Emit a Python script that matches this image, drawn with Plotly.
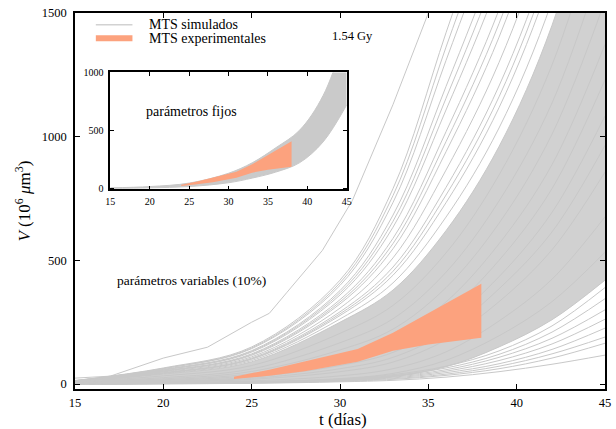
import plotly.graph_objects as go

FONT = "Liberation Serif"
GRAY = "#c8c8c8"
SALMON = "rgb(252,162,126)"

# time grid for simulated curves (days)
t_grid = [15, 20, 25, 30, 33, 36, 39, 42, 45]

# steepest simulated curve (read with its own abscissae)
outlier_t = [15, 17, 20, 22.5, 25, 26, 27, 29, 30.7, 33, 35, 36]
outlier_v = [24, 32, 105, 149, 250, 286, 371, 540, 742, 1130, 1500, 1700]

# sparse simulated curves above the dense bundle
upper_lines = [
    [14, 65, 150, 420, 790, 1420, 2050, 2800, 3600],
    [14, 63, 146, 409, 762, 1362, 1974, 2710, 3514],
    [13, 62, 143, 399, 734, 1308, 1900, 2621, 3427],
    [13, 59, 135, 378, 683, 1203, 1761, 2456, 3262],
    [12, 57, 132, 369, 658, 1155, 1696, 2377, 3184],
    [12, 56, 129, 360, 634, 1108, 1632, 2299, 3107],
    [12, 53, 122, 341, 589, 1020, 1513, 2150, 2956],
    [12, 52, 119, 332, 568, 980, 1457, 2083, 2885],
    [12, 51, 116, 324, 547, 939, 1402, 2016, 2815],
    [12, 49, 110, 307, 510, 865, 1300, 1887, 2678],
    [12, 46, 105, 292, 473, 795, 1205, 1767, 2549],
    [12, 45, 102, 284, 456, 764, 1161, 1711, 2487],
    [12, 44, 100, 277, 440, 733, 1117, 1655, 2426],
    [12, 42, 95, 263, 409, 675, 1035, 1548, 2308],
]

# simulated curves inside the dense bundle
inner_lines = [
    [1, 3, 9, 22, 43, 96, 195, 333, 533],
    [2, 5, 13, 33, 62, 130, 255, 424, 676],
    [3, 7, 19, 50, 89, 179, 333, 543, 857],
    [4, 9, 23, 62, 108, 210, 385, 615, 965],
    [5, 11, 28, 75, 128, 243, 434, 694, 1084],
    [6, 14, 35, 93, 155, 287, 500, 790, 1230],
    [7, 17, 42, 112, 184, 332, 567, 887, 1373],
    [8, 21, 51, 138, 222, 390, 650, 1010, 1550],
    [9, 26, 61, 167, 264, 452, 740, 1136, 1739],
    [10, 33, 75, 205, 318, 530, 845, 1290, 1960],
]

# sparse simulated curves below the dense bundle
lower_lines = [
    [0, 1, 3, 9, 15, 28, 50, 80, 117],
    [0, 1, 4, 11, 19, 35, 62, 105, 165],
    [1, 2, 5, 13, 22, 40, 72, 122, 190],
    [1, 2, 5, 14, 25, 46, 82, 140, 226],
    [1, 2, 6, 15, 28, 52, 95, 162, 262],
    [1, 3, 6, 17, 31, 58, 108, 185, 300],
    [1, 3, 7, 18, 34, 65, 120, 210, 345],
    [2, 3, 8, 20, 38, 72, 134, 235, 390],
]

# envelope of the dense bundle of simulated curves
dense_lower = [0, 2, 6, 15, 30, 70, 150, 260, 420]
dense_upper = [12, 40, 90, 250, 380, 620, 960, 1450, 2200]

# experimental band
exp_t_upper = [24, 26, 31, 33, 38]
exp_v_upper = [30, 58, 142, 207, 405]
exp_t_lower = [24, 26, 28, 31, 33, 35, 38]
exp_v_lower = [20, 34, 52, 90, 135, 160, 187]

# inset: fixed parameters band
fixed_lower = [0, 4, 15, 48, 88, 140, 220, 400, 720]
fixed_upper = [4, 15, 45, 130, 220, 350, 500, 800, 1350]

x_ticks = [15, 20, 25, 30, 35, 40, 45]
y_ticks = [0, 500, 1000, 1500]
y_ticks_inset = [0, 500, 1000]

fig = go.Figure()

# dense bundle
fig.add_trace(go.Scatter(x=t_grid, y=dense_lower, mode="lines",
                         line=dict(color=GRAY, width=1, shape="spline"),
                         hoverinfo="skip", showlegend=False))
fig.add_trace(go.Scatter(x=t_grid, y=dense_upper, mode="lines", fill="tonexty",
                         fillcolor="#d1d1d1",
                         line=dict(color=GRAY, width=1, shape="spline"),
                         hoverinfo="skip", showlegend=False))
for v in inner_lines + lower_lines + upper_lines:
    fig.add_trace(go.Scatter(x=t_grid, y=v, mode="lines",
                             line=dict(color=GRAY, width=1, shape="spline"),
                             hoverinfo="skip", showlegend=False))
fig.add_trace(go.Scatter(x=outlier_t, y=outlier_v, mode="lines",
                         line=dict(color=GRAY, width=1),
                         hoverinfo="skip", showlegend=False))

poly_t = exp_t_upper + exp_t_lower[::-1]
poly_v = exp_v_upper + exp_v_lower[::-1]
fig.add_trace(go.Scatter(x=poly_t, y=poly_v, mode="lines", fill="toself",
                         fillcolor=SALMON, line=dict(width=0, color=SALMON),
                         hoverinfo="skip", showlegend=False))

# inset
fig.add_trace(go.Scatter(x=t_grid, y=fixed_lower, mode="lines",
                         line=dict(color=GRAY, width=1, shape="spline"),
                         xaxis="x2", yaxis="y2", hoverinfo="skip", showlegend=False))
fig.add_trace(go.Scatter(x=t_grid, y=fixed_upper, mode="lines", fill="tonexty",
                         fillcolor="#cacaca",
                         line=dict(color=GRAY, width=1, shape="spline"),
                         xaxis="x2", yaxis="y2", hoverinfo="skip", showlegend=False))
fig.add_trace(go.Scatter(x=poly_t, y=poly_v, mode="lines", fill="toself",
                         fillcolor=SALMON, line=dict(width=0, color=SALMON),
                         xaxis="x2", yaxis="y2", hoverinfo="skip", showlegend=False))

axis_common = dict(showline=True, linecolor="black", linewidth=1.5, mirror="ticks",
                   ticks="inside", tickcolor="black", showgrid=False, zeroline=False)

fig.update_layout(
    width=616, height=429,
    margin=dict(l=75, r=6, t=11, b=40),
    paper_bgcolor="white", plot_bgcolor="white",
    font=dict(family=FONT, color="black"),
    xaxis=dict(range=[15, 45], tickvals=x_ticks, ticklen=5, tickwidth=1,
               tickfont=dict(size=12.5), ticklabelstandoff=1, **axis_common),
    yaxis=dict(range=[-20, 1500], tickvals=y_ticks, ticklen=5, tickwidth=1,
               tickfont=dict(size=12.5), ticklabelstandoff=4, **axis_common),
    xaxis2=dict(domain=[0.0667, 0.5127], anchor="y2", range=[15, 45], tickvals=x_ticks,
                ticklen=4, tickwidth=1, tickfont=dict(size=10), ticklabelstandoff=2,
                **axis_common),
    yaxis2=dict(domain=[0.531, 0.842], anchor="x2", range=[-9, 1000], tickvals=y_ticks_inset,
                ticklen=4, tickwidth=1, tickfont=dict(size=10), ticklabelstandoff=3,
                **axis_common),
    showlegend=False,
)

# legend drawn manually
fig.add_shape(type="line", xref="paper", yref="paper", x0=0.0393, x1=0.1084,
              y0=0.969, y1=0.969, line=dict(color="#d2d2d2", width=1.5))
fig.add_shape(type="rect", xref="paper", yref="paper", x0=0.0393, x1=0.1084,
              y0=0.9251, y1=0.9410, line=dict(width=0), fillcolor=SALMON)

ann = [
    dict(text="MTS simulados", x=0.1364, y=0.969, xanchor="left", yanchor="middle", size=14),
    dict(text="MTS experimentales", x=0.1364, y=0.9325, xanchor="left", yanchor="middle", size=14),
    dict(text="1.54 Gy", x=0.5243, y=0.939, xanchor="center", yanchor="middle", size=12.5),
    dict(text="parámetros variables (10%)", x=0.22, y=0.288, xanchor="center", yanchor="middle", size=13.5),
    dict(text="parámetros fijos", x=0.2206, y=0.738, xanchor="center", yanchor="middle", size=14),
    dict(text="t (días)", x=0.5065, y=-0.082, xanchor="center", yanchor="middle", size=17),
]
for a in ann:
    fig.add_annotation(text=a["text"], x=a["x"], y=a["y"], xref="paper", yref="paper",
                       xanchor=a["xanchor"], yanchor=a["yanchor"], showarrow=False,
                       font=dict(family=FONT, size=a["size"], color="black"))
fig.add_annotation(text="<i>V</i> (10<sup>6</sup> <i>μ</i>m<sup>3</sup>)", x=-0.099, y=0.5,
                   xref="paper", yref="paper", textangle=-90, showarrow=False,
                   xanchor="center", yanchor="middle",
                   font=dict(family=FONT, size=17, color="black"))

fig.write_html("out.html")
